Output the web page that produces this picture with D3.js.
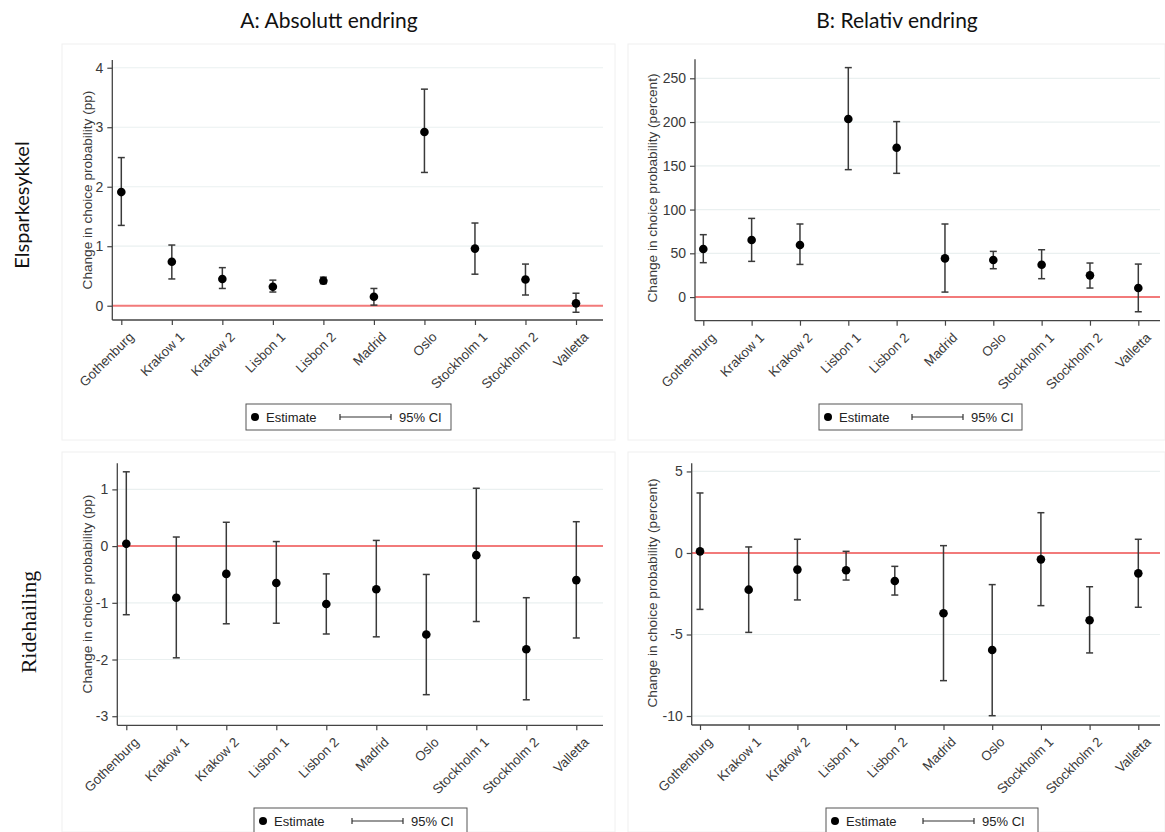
<!DOCTYPE html>
<html>
<head>
<meta charset="utf-8">
<script src="https://cdn.jsdelivr.net/npm/d3@7"></script>
<style>
  body { margin: 0; background: #fff; }
  svg { display: block; }
</style>
</head>
<body>
<div id="chart-area"></div>
<script>
// cities on the x axis (same in all four panels)
var cities = ["Gothenburg","Krakow 1","Krakow 2","Lisbon 1","Lisbon 2","Madrid","Oslo","Stockholm 1","Stockholm 2","Valletta"];

// A: Elsparkesykkel, absolute change (pp)
var scooterAbsEst = [1.91, 0.74, 0.45, 0.32, 0.42, 0.15, 2.92, 0.96, 0.44, 0.04];
var scooterAbsLo  = [1.35, 0.45, 0.29, 0.23, 0.37, 0.01, 2.24, 0.53, 0.18, -0.11];
var scooterAbsHi  = [2.49, 1.02, 0.64, 0.43, 0.48, 0.29, 3.64, 1.39, 0.70, 0.21];
var scooterAbsTicks = [0, 1, 2, 3, 4];

// B: Elsparkesykkel, relative change (percent)
var scooterRelEst = [54.9, 65.2, 59.5, 203.5, 170.7, 44.2, 42.3, 37.0, 24.8, 10.3];
var scooterRelLo  = [39.3, 40.8, 37.3, 145.6, 141.4, 5.7, 32.4, 21.0, 10.3, -16.8];
var scooterRelHi  = [71.3, 89.9, 83.5, 262.2, 200.5, 83.5, 52.2, 54.1, 38.9, 37.7];
var scooterRelTicks = [0, 50, 100, 150, 200, 250];

// C: Ridehailing, absolute change (pp)
var rideAbsEst = [0.04, -0.91, -0.49, -0.65, -1.02, -0.76, -1.56, -0.16, -1.82, -0.60];
var rideAbsLo  = [-1.21, -1.97, -1.37, -1.36, -1.55, -1.60, -2.62, -1.33, -2.71, -1.62];
var rideAbsHi  = [1.31, 0.16, 0.42, 0.08, -0.49, 0.10, -0.50, 1.02, -0.91, 0.43];
var rideAbsTicks = [-3, -2, -1, 0, 1];

// D: Ridehailing, relative change (percent)
var rideRelEst = [0.10, -2.25, -1.02, -1.06, -1.72, -3.70, -5.95, -0.39, -4.13, -1.25];
var rideRelLo  = [-3.46, -4.87, -2.88, -1.66, -2.58, -7.83, -9.98, -3.23, -6.13, -3.33];
var rideRelHi  = [3.68, 0.37, 0.84, 0.10, -0.82, 0.45, -1.94, 2.47, -2.07, 0.84];
var rideRelTicks = [-10, -5, 0, 5];

var width = 1165, height = 832;

var svg = d3.select("#chart-area").append("svg")
    .attr("width", width)
    .attr("height", height);

var axisFont = "'Liberation Sans', Arial, sans-serif";

// faint panel frames
[[62,44,553,396],[628,44,537,396],[62,452,553,380],[628,452,537,380]].forEach(function(r){
  svg.append("rect")
    .attr("x", r[0]).attr("y", r[1])
    .attr("width", r[2]).attr("height", r[3])
    .attr("fill", "none")
    .attr("stroke", "#f0f0f0");
});

// column titles
svg.append("text")
  .attr("x", 329).attr("y", 28)
  .attr("text-anchor", "middle")
  .attr("font-family", "Lato, 'Open Sans', sans-serif")
  .attr("font-size", "21px")
  .attr("fill", "#111")
  .text("A: Absolutt endring");

svg.append("text")
  .attr("x", 897).attr("y", 28)
  .attr("text-anchor", "middle")
  .attr("font-family", "Lato, 'Open Sans', sans-serif")
  .attr("font-size", "21px")
  .attr("fill", "#111")
  .text("B: Relativ endring");

// row titles
svg.append("text")
  .attr("transform", "translate(29,205) rotate(-90)")
  .attr("text-anchor", "middle")
  .attr("font-family", "Lato, 'Open Sans', sans-serif")
  .attr("font-size", "20px")
  .attr("fill", "#111")
  .text("Elsparkesykkel");

svg.append("text")
  .attr("transform", "translate(36,622) rotate(-90)")
  .attr("text-anchor", "middle")
  .attr("font-family", "'Liberation Serif', 'Times New Roman', serif")
  .attr("font-size", "22px")
  .attr("fill", "#111")
  .text("Ridehailing");

function drawPanel(p) {
  var g = svg.append("g");

  var y = d3.scaleLinear().domain(p.domain).range([p.bottom, p.top]);
  var x = d3.scalePoint().domain(cities).range([p.x0, p.x1]);

  // grid
  g.selectAll(".grid")
    .data(p.ticks)
    .enter().append("line")
      .attr("x1", p.left).attr("x2", p.right)
      .attr("y1", function(d){ return y(d); })
      .attr("y2", function(d){ return y(d); })
      .attr("stroke", "#eaf0f0")
      .attr("stroke-width", 1.2);

  // zero line
  g.append("line")
    .attr("x1", p.left).attr("x2", p.right)
    .attr("y1", y(0)).attr("y2", y(0))
    .attr("stroke", "#f27a7a")
    .attr("stroke-width", 2);

  var rows = cities.map(function(c, i){
    return {city: c, est: p.est[i], lo: p.lo[i], hi: p.hi[i]};
  });

  // error bars
  g.selectAll(".ci")
    .data(rows)
    .enter().append("line")
      .attr("x1", function(d){ return x(d.city); })
      .attr("x2", function(d){ return x(d.city); })
      .attr("y1", function(d){ return y(d.lo); })
      .attr("y2", function(d){ return y(d.hi); })
      .attr("stroke", "#3a3a3a")
      .attr("stroke-width", 1.5);

  ["lo","hi"].forEach(function(k){
    g.selectAll(".cap-" + k)
      .data(rows)
      .enter().append("line")
        .attr("x1", function(d){ return x(d.city) - 3.5; })
        .attr("x2", function(d){ return x(d.city) + 3.5; })
        .attr("y1", function(d){ return y(d[k]); })
        .attr("y2", function(d){ return y(d[k]); })
        .attr("stroke", "#3a3a3a")
        .attr("stroke-width", 1.5);
  });

  g.selectAll("circle")
    .data(rows)
    .enter().append("circle")
      .attr("cx", function(d){ return x(d.city); })
      .attr("cy", function(d){ return y(d.est); })
      .attr("r", 4.3)
      .attr("fill", "#000");

  // axes
  var leftAxis = d3.axisLeft(y).tickValues(p.ticks)
    .tickFormat(function(d){ return String(d); })
    .tickSize(5).tickPadding(4).tickSizeOuter(0);
  var ya = g.append("g")
    .attr("transform", "translate(" + p.left + ",0)")
    .call(leftAxis);
  ya.select(".domain").remove();
  ya.selectAll("line").attr("stroke", "#444").attr("stroke-width", 1.2);
  ya.selectAll("text")
    .attr("font-family", axisFont)
    .attr("font-size", "14px")
    .attr("fill", "#3a3a3a");

  var bottomAxis = d3.axisBottom(x).tickSize(5).tickPadding(0).tickSizeOuter(0);
  var xa = g.append("g")
    .attr("transform", "translate(0," + p.bottom + ")")
    .call(bottomAxis);
  xa.select(".domain").remove();
  xa.selectAll("line").attr("stroke", "#444").attr("stroke-width", 1.2);
  xa.selectAll("text")
    .attr("font-family", axisFont)
    .attr("font-size", "13.3px")
    .attr("fill", "#3a3a3a")
    .attr("text-anchor", "end")
    .attr("dy", "0.35em")
    .attr("transform", "translate(6,11) rotate(-45)");

  // frame lines
  g.append("line")
    .attr("x1", p.left).attr("x2", p.left)
    .attr("y1", p.top).attr("y2", p.bottom)
    .attr("stroke", "#444").attr("stroke-width", 1.3);
  g.append("line")
    .attr("x1", p.left).attr("x2", p.right)
    .attr("y1", p.bottom).attr("y2", p.bottom)
    .attr("stroke", "#444").attr("stroke-width", 1.3);

  // y title
  g.append("text")
    .attr("transform", "translate(" + p.titleX + "," + p.titleY + ") rotate(-90)")
    .attr("text-anchor", "middle")
    .attr("dy", "0.35em")
    .attr("font-family", axisFont)
    .attr("font-size", "13.6px")
    .attr("fill", "#3a3a3a")
    .text(p.yTitle);

  // legend
  var L = p.legend;
  var lg = g.append("g").attr("transform", "translate(" + L[0] + "," + L[1] + ")");
  lg.append("rect")
    .attr("width", L[2]).attr("height", 26)
    .attr("fill", "#fff")
    .attr("stroke", "#555")
    .attr("stroke-width", 1);
  lg.append("circle").attr("cx", 9).attr("cy", 13).attr("r", 4).attr("fill", "#000");
  lg.append("text")
    .attr("x", 20).attr("y", 13).attr("dy", "0.35em")
    .attr("font-family", axisFont).attr("font-size", "13px").attr("fill", "#222")
    .text("Estimate");
  lg.append("line")
    .attr("x1", L[3]).attr("x2", L[3] + 51)
    .attr("y1", 13).attr("y2", 13)
    .attr("stroke", "#333").attr("stroke-width", 1.2);
  [L[3], L[3] + 51].forEach(function(cx){
    lg.append("line")
      .attr("x1", cx).attr("x2", cx)
      .attr("y1", 10).attr("y2", 16)
      .attr("stroke", "#333").attr("stroke-width", 1.2);
  });
  lg.append("text")
    .attr("x", L[3] + 59).attr("y", 13).attr("dy", "0.35em")
    .attr("font-family", axisFont).attr("font-size", "13px").attr("fill", "#222")
    .text("95% CI");
}

drawPanel({
  est: scooterAbsEst, lo: scooterAbsLo, hi: scooterAbsHi, ticks: scooterAbsTicks,
  domain: [-0.24, 4.13], top: 60, bottom: 320, left: 112.3, right: 603,
  x0: 121.3, x1: 576, titleX: 87, titleY: 190,
  yTitle: "Change in choice probability (pp)",
  legend: [246, 404, 205, 94]
});

drawPanel({
  est: scooterRelEst, lo: scooterRelLo, hi: scooterRelHi, ticks: scooterRelTicks,
  domain: [-27, 271.7], top: 59.3, bottom: 320.7, left: 695, right: 1160,
  x0: 703.3, x1: 1138.3, titleX: 652, titleY: 188,
  yTitle: "Change in choice probability (percent)",
  legend: [819, 404, 203, 93]
});

drawPanel({
  est: rideAbsEst, lo: rideAbsLo, hi: rideAbsHi, ticks: rideAbsTicks,
  domain: [-3.16, 1.46], top: 463.3, bottom: 725.3, left: 117.3, right: 603,
  x0: 126.3, x1: 576.3, titleX: 87, titleY: 594,
  yTitle: "Change in choice probability (pp)",
  legend: [254, 808, 213, 98]
});

drawPanel({
  est: rideRelEst, lo: rideRelLo, hi: rideRelHi, ticks: rideRelTicks,
  domain: [-10.55, 5.5], top: 463.3, bottom: 725, left: 691.7, right: 1160,
  x0: 700, x1: 1138.3, titleX: 652, titleY: 593,
  yTitle: "Change in choice probability (percent)",
  legend: [826, 808, 212, 97]
});
</script>
</body>
</html>
